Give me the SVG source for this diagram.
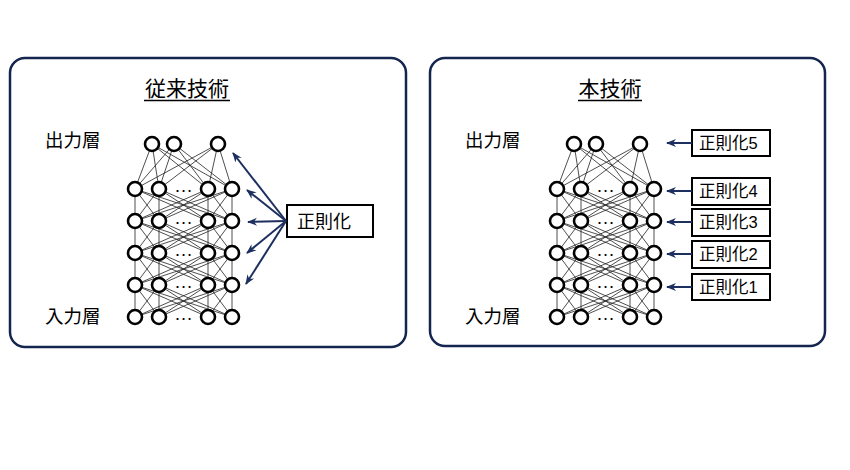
<svg xmlns="http://www.w3.org/2000/svg" xmlns:xlink="http://www.w3.org/1999/xlink" width="850" height="470" viewBox="0 0 850 470">
<style>
.panel{fill:#fff;stroke:#14254f;stroke-width:2.5}
.t{font-family:"Liberation Sans","Noto Sans CJK JP",sans-serif;fill:#000}
.title{font-size:21px}
.lbl{font-size:18.5px}
.box{fill:#fff;stroke:#000;stroke-width:2}
.w{fill:none;stroke:#222;stroke-width:0.8}
.arr{stroke:#1c2f5f;stroke-width:2;fill:none;marker-end:url(#ah)}
.dots{font-family:"Liberation Sans",sans-serif;font-size:19px;fill:#000;text-anchor:middle}
</style>
<defs>
<marker id="ah" markerUnits="userSpaceOnUse" markerWidth="10" markerHeight="10" viewBox="0 0 10 10" refX="9" refY="5" orient="auto">
<path d="M0,1 L10,5 L0,9 L3,5 Z" fill="#1c2f5f"/>
</marker>
<circle id="n" r="7" fill="#fff" stroke="#000" stroke-width="2.6"/>
<path id="gap" class="w" d="M0 0L0 32M0 0L24 32M0 0L73 32M0 0L97 32M24 0L0 32M24 0L24 32M24 0L73 32M24 0L97 32M73 0L0 32M73 0L24 32M73 0L73 32M73 0L97 32M97 0L0 32M97 0L24 32M97 0L73 32M97 0L97 32"/>
<path id="top" class="w" d="M17 0L0 45M17 0L24 45M17 0L73 45M17 0L97 45M39 0L0 45M39 0L24 45M39 0L73 45M39 0L97 45M83 0L0 45M83 0L24 45M83 0L73 45M83 0L97 45"/>
<g id="row">
<use xlink:href="#n" x="0"/><use xlink:href="#n" x="24"/><use xlink:href="#n" x="73"/><use xlink:href="#n" x="97"/>
<text class="dots" x="48.5" y="3">…</text>
</g>
<g id="net">
<use xlink:href="#top" y="0"/>
<use xlink:href="#gap" y="45"/>
<use xlink:href="#gap" y="77"/>
<use xlink:href="#gap" y="109"/>
<use xlink:href="#gap" y="141"/>
<use xlink:href="#n" x="17"/><use xlink:href="#n" x="39"/><use xlink:href="#n" x="83"/>
<use xlink:href="#row" y="45"/>
<use xlink:href="#row" y="77"/>
<use xlink:href="#row" y="109"/>
<use xlink:href="#row" y="141"/>
<use xlink:href="#row" y="173"/>
</g>
</defs>

<g id="panel-left">
<rect class="panel" x="10" y="58" width="396" height="289" rx="15"/>
<text class="t title" x="187" y="96" text-anchor="middle">従来技術</text>
<line x1="144" y1="100.5" x2="230" y2="100.5" stroke="#000" stroke-width="1.3"/>
<text class="t lbl" x="45" y="147">出力層</text>
<text class="t lbl" x="45" y="323">入力層</text>
</g>
<g id="network-left">
<use xlink:href="#net" transform="translate(135,144)"/>
</g>
<g id="box-left">
<rect class="box" x="287" y="205" width="86" height="32"/>
<text class="t" x="297" y="228" font-size="18">正則化</text>
</g>

<g id="panel-right">
<rect class="panel" x="430" y="58" width="395" height="288" rx="15"/>
<text class="t title" x="610" y="96" text-anchor="middle">本技術</text>
<line x1="578" y1="100.5" x2="642" y2="100.5" stroke="#000" stroke-width="1.3"/>
<text class="t lbl" x="465" y="147">出力層</text>
<text class="t lbl" x="465" y="323">入力層</text>
</g>
<g id="network-right">
<use xlink:href="#net" transform="translate(557,144)"/>
</g>
<g id="box-r5"><rect class="box" x="692" y="130" width="78" height="26"/><text class="t" x="699" y="149" font-size="16.5">正則化5</text></g>
<g id="box-r4"><rect class="box" x="692" y="178" width="78" height="27"/><text class="t" x="699" y="197" font-size="16.5">正則化4</text></g>
<g id="box-r3"><rect class="box" x="692" y="209" width="78" height="27"/><text class="t" x="699" y="228" font-size="16.5">正則化3</text></g>
<g id="box-r2"><rect class="box" x="692" y="241" width="78" height="27"/><text class="t" x="699" y="260" font-size="16.5">正則化2</text></g>
<g id="box-r1"><rect class="box" x="692" y="274" width="78" height="26"/><text class="t" x="699" y="293" font-size="16.5">正則化1</text></g>

<g id="connectors">
<line class="arr" x1="286" y1="221" x2="233" y2="153"/>
<line class="arr" x1="286" y1="221" x2="247" y2="190"/>
<line class="arr" x1="286" y1="221" x2="248" y2="222"/>
<line class="arr" x1="286" y1="221" x2="247" y2="253"/>
<line class="arr" x1="286" y1="221" x2="246" y2="284"/>
<line class="arr" x1="692" y1="143" x2="667" y2="143"/>
<line class="arr" x1="692" y1="191" x2="667" y2="191"/>
<line class="arr" x1="692" y1="222" x2="667" y2="222"/>
<line class="arr" x1="692" y1="254" x2="667" y2="254"/>
<line class="arr" x1="692" y1="287" x2="667" y2="287"/>
</g>
</svg>
